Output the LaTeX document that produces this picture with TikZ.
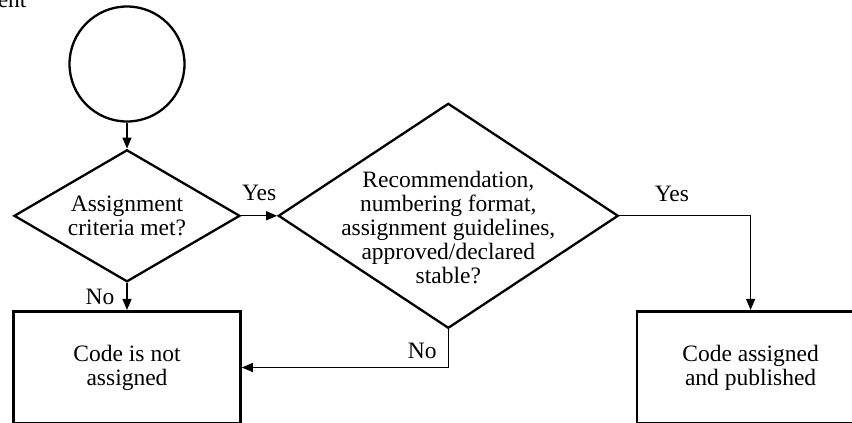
\documentclass[tikz,border=0pt]{standalone}
\usepackage{fontspec}
\setmainfont{Liberation Serif}
\usetikzlibrary{positioning,shapes.geometric,arrows.meta}

\begin{document}
\begin{tikzpicture}[x=1pt,y=1pt,
	every node/.style={font=\fontsize{23.5}{24}\selectfont},
	startnode/.style={circle, draw, line width=2.3pt, minimum size=115pt},
	decision/.style={diamond, draw, line width=2.3pt, align=center, inner sep=-10pt},
	outcome/.style={rectangle, draw, line width=2.6pt, align=center, minimum width=227pt, minimum height=112.5pt},
	flow/.style={line width=1.2pt, -{Triangle[length=11pt,width=9pt]}},
	answer/.style={inner sep=3pt}]
		\path[use as bounding box, clip] (0,0) rectangle (852,-423);
		\node[anchor=base east] (heading) at (30,-8) {ent};
		\node[startnode] (start) at (127,-64) {};
		\node[decision, minimum width=226pt, minimum height=132pt] (criteria) [below=26pt of start] {Assignment\\criteria met?};
		\node[decision, minimum width=340pt, minimum height=225pt, inner sep=-45pt] (approved) [right=36pt of criteria] {\rule{0pt}{40pt}Recommendation,\\numbering format,\\assignment guidelines,\\approved/declared\\stable?};
		\node[outcome] (notassigned) [below=27pt of criteria] {Code is not\\assigned};
		\node[outcome] (assigned) [right=394pt of notassigned] {Code assigned\\and published};
		\draw[flow] (start) -- (criteria);
		\draw[flow] (criteria) -- node[answer, above=11pt] (yes1) {Yes} (approved);
		\draw[flow] (criteria) -- node[answer, left=9pt] (no1) {No} (notassigned);
		\draw[flow] (approved) |- node[answer, pos=0.28, left=8pt] (no2) {No} (notassigned);
		\draw[flow] (approved) -| node[answer, pos=0.2, above=10pt] (yes2) {Yes} (assigned);
	\end{tikzpicture}
\end{document}
